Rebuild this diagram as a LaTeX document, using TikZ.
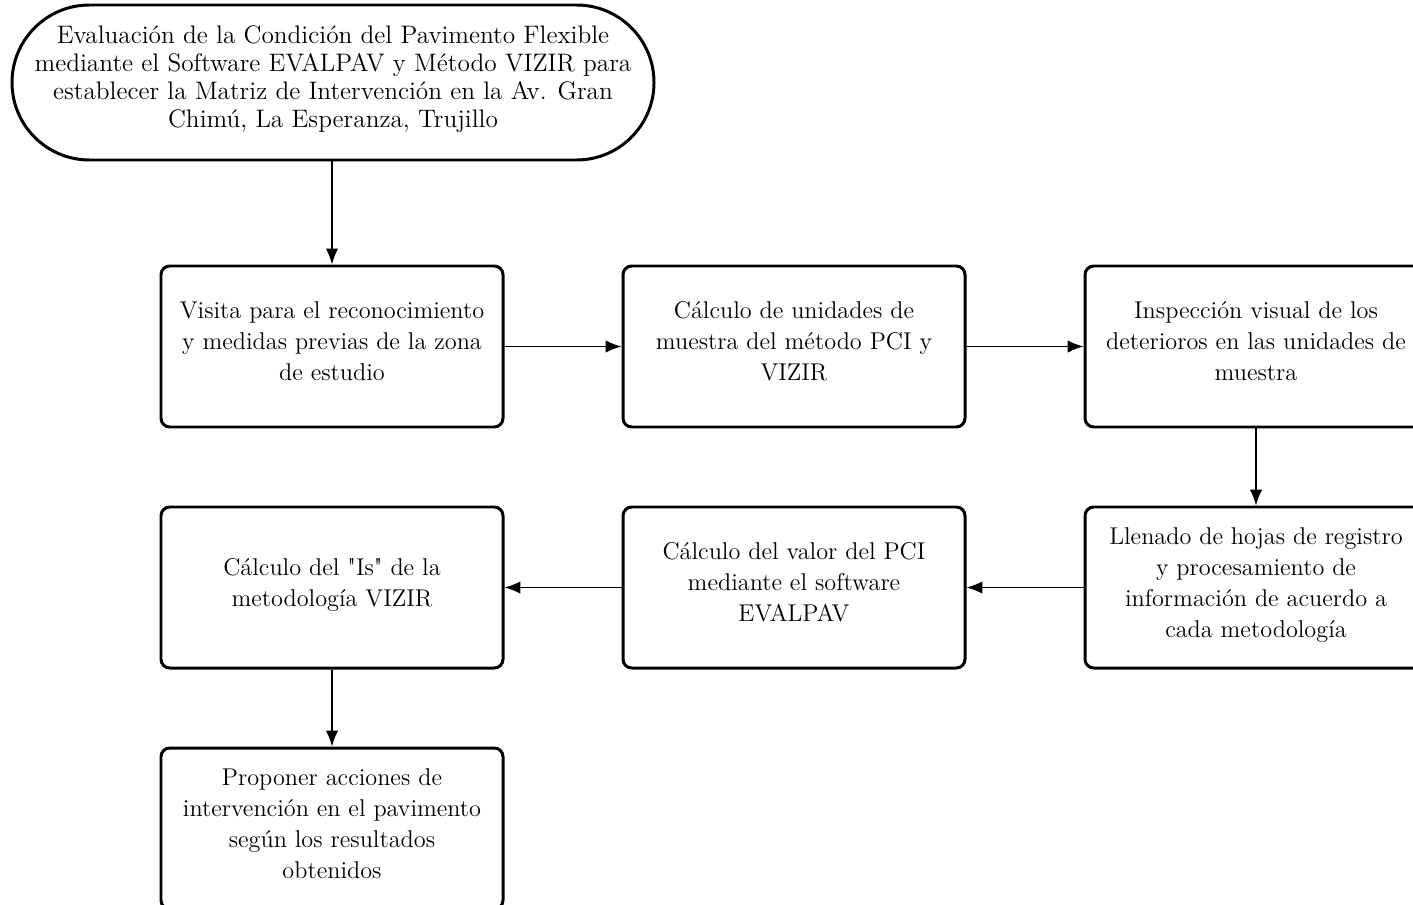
\documentclass[tikz,border=0pt]{standalone}
\usepackage{tikz}
\usetikzlibrary{positioning, arrows.meta}
\tikzset{>=latex}

\begin{document}
\begin{tikzpicture}[
    every node/.style={align=center, font=\fontsize{13.8}{17.6}\selectfont},
    inicio/.style={draw, line width=1.7pt, rounded corners=1.55cm,
        minimum width=12.84cm, minimum height=3.1cm, inner sep=0pt,
        font=\fontsize{14.4}{15.9}\selectfont, text depth=6.5pt},
    paso/.style={draw, line width=1.7pt, rounded corners=5pt,
        minimum width=6.84cm, minimum height=3.22cm, inner sep=0pt,
        text depth=6pt},
    flecha/.style={-{Latex[length=9pt,width=7pt]}, line width=0.9pt},
    node distance=1.6cm-1.7pt and 2.4cm-1.7pt
    ]

    %frame of the picture (the boxes at the right and bottom are cut off)
    \useasboundingbox (0,0) rectangle (28.26,-18.1);
    \clip (0,0) rectangle (28.26,-18.1);

    %start
    \node[inicio] (inicio) at (6.66,-1.65) {Evaluación de la Condición del Pavimento Flexible\\
        mediante el Software EVALPAV y Método VIZIR para\\
        establecer la Matriz de Intervención en la Av. Gran\\
        Chimú, La Esperanza, Trujillo};

    %first row
    \node[paso] (visita) at (6.64,-6.93) {Visita para el reconocimiento\\
        y medidas previas de la zona\\ de estudio};
    \node[paso, right=of visita] (unidades) {Cálculo de unidades de\\
        muestra del método PCI y\\ VIZIR};
    \node[paso, right=of unidades] (inspeccion) {Inspección visual de los\\
        deterioros en las unidades de\\ muestra};

    %second row
    \node[paso, below=of inspeccion] (llenado) {Llenado de hojas de registro\\
        y procesamiento de\\ información de acuerdo a\\ cada metodología};
    \node[paso, below=of unidades] (pci) {Cálculo del valor del PCI\\
        mediante el software\\ EVALPAV};
    \node[paso, below=of visita] (vizir) {Cálculo del \textquotedbl Is\textquotedbl{} de la\\
        metodología VIZIR};

    %last
    \node[paso, below=of vizir] (proponer) {Proponer acciones de\\
        intervención en el pavimento\\ según los resultados\\ obtenidos};

    %arrows
    \draw[flecha] (inicio.south -| visita.north) -- (visita.north);
    \draw[flecha] (visita) -- (unidades);
    \draw[flecha] (unidades) -- (inspeccion);
    \draw[flecha] (inspeccion) -- (llenado);
    \draw[flecha] (llenado) -- (pci);
    \draw[flecha] (pci) -- (vizir);
    \draw[flecha] (vizir) -- (proponer);

\end{tikzpicture}
\end{document}
